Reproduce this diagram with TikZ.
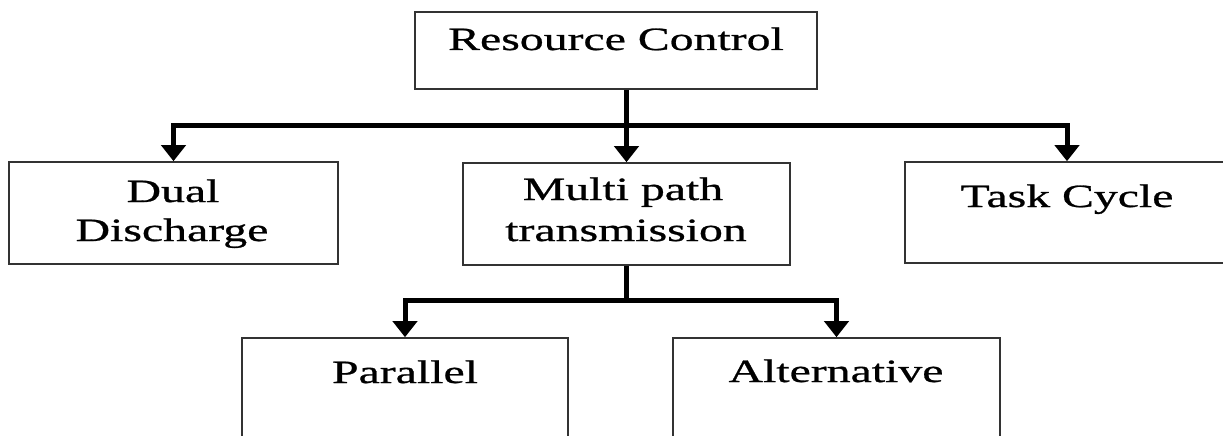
\documentclass[tikz,border=0pt]{standalone}
\usepackage{fontspec}
\setmainfont[FakeStretch=1.47,FakeBold=0.8]{Liberation Serif}
\usetikzlibrary{arrows.meta}
\begin{document}
\begin{tikzpicture}[x=1pt,y=-1pt,
  box/.style={draw=black!80, line width=1.6pt, rectangle, inner sep=0pt},
  lbl/.style={font=\fontsize{32.5}{40}\selectfont, anchor=base, inner sep=0pt},
  conn/.style={line width=5pt, -{Triangle[width=24pt,length=16pt]}},
]
\useasboundingbox (0,0) rectangle (1223,436);
\clip (0,0) rectangle (1223,436);
\fill[white] (0,0) rectangle (1223,436);
% boxes
\node[box, minimum width=402pt, minimum height=77pt]  (rc)  at (616,50.5) {};
\node[box, minimum width=329pt, minimum height=102pt] (dd)  at (173.5,213) {};
\node[box, minimum width=327pt, minimum height=102pt] (mpt) at (626.5,214) {};
\node[box, minimum width=324pt, minimum height=101pt] (tc)  at (1067,212.5) {};
\node[box, minimum width=326pt, minimum height=110pt] (pa)  at (405,393) {};
\node[box, minimum width=327pt, minimum height=110pt] (al)  at (836.5,393) {};
% labels
\node[lbl] (rct)  at (616,50)  {Resource Control};
\node[lbl] (dd1)  at (173,202) {Dual};
\node[lbl] (dd2)  at (172,241) {Discharge};
\node[lbl] (mp1)  at (623,200) {Multi path};
\node[lbl] (mp2)  at (626,241) {transmission};
\node[lbl] (tct)  at (1067,207) {Task Cycle};
\node[lbl] (pat)  at (405,383) {Parallel};
\node[lbl] (alt)  at (836,382) {Alternative};
% connectors
\coordinate (bus)  at (0,125);
\coordinate (bus2) at (0,300);
\draw[conn] (rc.south -| mpt.north) -- (mpt.north);
\draw[conn] (bus -| mpt.north) -| (dd.north);
\draw[conn] (bus -| mpt.north) -| (tc.north);
\draw[conn] (mpt.south) -- (bus2 -| mpt.south) -| (pa.north);
\draw[conn] (bus2 -| mpt.south) -| (al.north);
\end{tikzpicture}
\end{document}
